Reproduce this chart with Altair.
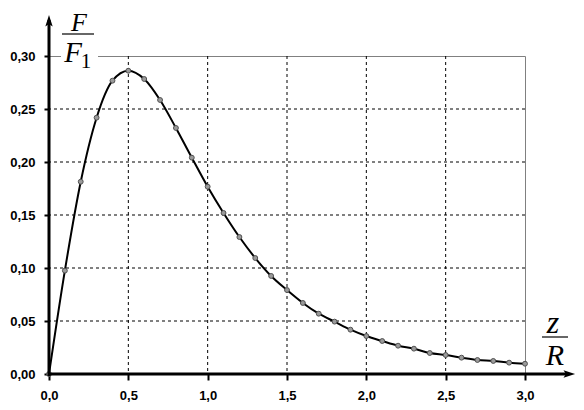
import altair as alt
import pandas as pd

# data
x_vals = [0.0, 0.1, 0.2, 0.3, 0.4, 0.5, 0.6, 0.7, 0.8, 0.9, 1.0,
          1.1, 1.2, 1.3, 1.4, 1.5, 1.6, 1.7, 1.8, 1.9, 2.0,
          2.1, 2.2, 2.3, 2.4, 2.5, 2.6, 2.7, 2.8, 2.9, 3.0]
y_vals = [0.0, 0.0975, 0.1814, 0.2418, 0.2767, 0.2861, 0.2783, 0.2585, 0.2321, 0.2041, 0.1767,
          0.1519, 0.1292, 0.1094, 0.0925, 0.0792, 0.0670, 0.0569, 0.0494, 0.0418, 0.0358,
          0.0311, 0.0267, 0.0239, 0.0198, 0.0179, 0.0154, 0.0132, 0.0123, 0.0107, 0.0097]
x_ticks = [0.0, 0.5, 1.0, 1.5, 2.0, 2.5, 3.0]
y_ticks = [0.0, 0.05, 0.10, 0.15, 0.20, 0.25, 0.30]
x_grid = [0.5, 1.0, 1.5, 2.0, 2.5]
y_grid = [0.05, 0.10, 0.15, 0.20, 0.25]

df = pd.DataFrame({"x": x_vals, "y": y_vals})
gx = pd.DataFrame({"x": x_grid})
gy = pd.DataFrame({"y": y_grid})
one = pd.DataFrame({"k": [0]})

W, H = 476, 318
LABEL_FONT = "Liberation Sans"
SERIF = "Liberation Serif"

xscale = alt.Scale(domain=[0, 3.0], nice=False, zero=False)
yscale = alt.Scale(domain=[0, 0.30], nice=False, zero=False)

ax_x = alt.Axis(values=x_ticks, title=None, grid=False, domain=False,
                labelExpr="replace(format(datum.value, '.1f'), '.', ',')",
                labelFont=LABEL_FONT, labelFontWeight="bold", labelFontSize=13,
                labelColor="black", tickColor="black", tickWidth=2, tickSize=6,
                labelPadding=9, labelFlush=False, labelOverlap=False)
ax_y = alt.Axis(values=y_ticks, title=None, grid=False, domain=False,
                labelExpr="replace(format(datum.value, '.2f'), '.', ',')",
                labelFont=LABEL_FONT, labelFontWeight="bold", labelFontSize=13,
                labelColor="black", tickColor="black", tickWidth=2, tickSize=5,
                labelPadding=9, labelFlush=False, labelOverlap=False)

X = alt.X("x:Q", scale=xscale, axis=ax_x)
Y = alt.Y("y:Q", scale=yscale, axis=ax_y)

grid_v = alt.Chart(gx).mark_rule(color="black", strokeWidth=1, strokeDash=[3, 3]).encode(x=X)
grid_h = alt.Chart(gy).mark_rule(color="black", strokeWidth=1, strokeDash=[3, 3]).encode(y=Y)

line = alt.Chart(df).mark_line(color="black", strokeWidth=2, interpolate="monotone").encode(x=X, y=Y)
pts = alt.Chart(df).mark_point(filled=True, shape="circle", size=24, color="#9a9a9a",
                               stroke="#505050", strokeWidth=1, opacity=1).encode(x=X, y=Y)

# axis lines with arrows (decoration)
yaxis_line = alt.Chart(one).mark_rule(color="black", strokeWidth=3).encode(
    x=alt.value(0), y=alt.value(-36), y2=alt.value(320))
xaxis_line = alt.Chart(one).mark_rule(color="black", strokeWidth=3).encode(
    x=alt.value(-1), x2=alt.value(520), y=alt.value(H))
arrow_up = alt.Chart(one).mark_point(
    shape="M0,-1 L0.6,0.9 L0,0.5 L-0.6,0.9 Z", filled=True, color="black", size=150, opacity=1
).encode(x=alt.value(0), y=alt.value(-35))
arrow_right = alt.Chart(one).mark_point(
    shape="M1,0 L-0.9,0.6 L-0.5,0 L-0.9,-0.6 Z", filled=True, color="black", size=150, opacity=1
).encode(x=alt.value(520), y=alt.value(H))

# title box background
title_bg = alt.Chart(one).mark_rect(color="white").encode(
    x=alt.value(12), x2=alt.value(49), y=alt.value(-20), y2=alt.value(14))

def txt(s, x, y, size, italic=True, font=SERIF):
    return alt.Chart(pd.DataFrame({"t": [s]})).mark_text(
        font=font, fontSize=size, fontStyle="italic" if italic else "normal",
        baseline="alphabetic", align="center", color="black"
    ).encode(text="t:N", x=alt.value(x), y=alt.value(y))

def bar(x1, x2, y):
    return alt.Chart(one).mark_rule(color="black", strokeWidth=1.2).encode(
        x=alt.value(x1), x2=alt.value(x2), y=alt.value(y))

title_y = [
    txt("F", 30, -25, 26),
    bar(13, 45, -22),
    txt("F", 24, 6, 29),
    txt("1", 37, 12, 21, italic=False),
]
title_x = [
    txt("z", 504, 277, 32),
    bar(493, 519, 281),
    txt("R", 506, 309, 30),
]

chart = alt.layer(
    grid_v, grid_h, title_bg, line, pts, yaxis_line, xaxis_line, arrow_up, arrow_right,
    *title_y, *title_x
).properties(
    width=W, height=H, autosize="none",
    padding={"left": 41, "top": 48, "right": 51, "bottom": 28},
    background="white",
).configure_view(stroke="#808080", strokeWidth=1)

chart.save("out.html", embed_options={"renderer": "svg", "actions": False})
